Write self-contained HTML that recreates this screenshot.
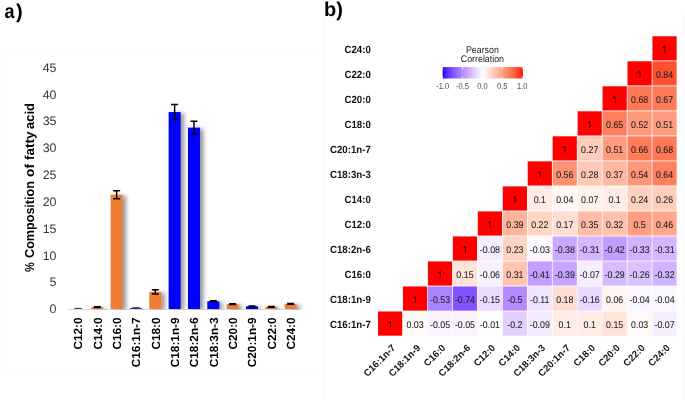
<!DOCTYPE html>
<html><head><meta charset="utf-8"><title>Fatty acid composition and correlation</title>
<style>html,body{margin:0;padding:0;background:#fff;}body{width:685px;height:400px;overflow:hidden;font-family:"Liberation Sans", sans-serif;}svg{display:block;filter:blur(0.3px);}</style>
</head><body><svg width="685" height="400" viewBox="0 0 685 400" text-rendering="geometricPrecision" font-family='"Liberation Sans", sans-serif'><defs><linearGradient id="cb" x1="0" x2="1" y1="0" y2="0"><stop offset="0.0000" stop-color="rgb(0, 0, 255)"/><stop offset="0.0250" stop-color="rgb(56, 27, 255)"/><stop offset="0.0500" stop-color="rgb(80, 43, 255)"/><stop offset="0.0750" stop-color="rgb(98, 57, 255)"/><stop offset="0.1000" stop-color="rgb(113, 69, 255)"/><stop offset="0.1250" stop-color="rgb(126, 82, 255)"/><stop offset="0.1500" stop-color="rgb(138, 93, 255)"/><stop offset="0.1750" stop-color="rgb(149, 105, 255)"/><stop offset="0.2000" stop-color="rgb(160, 116, 255)"/><stop offset="0.2250" stop-color="rgb(170, 128, 255)"/><stop offset="0.2500" stop-color="rgb(179, 139, 255)"/><stop offset="0.2750" stop-color="rgb(188, 151, 255)"/><stop offset="0.3000" stop-color="rgb(196, 162, 255)"/><stop offset="0.3250" stop-color="rgb(204, 173, 255)"/><stop offset="0.3500" stop-color="rgb(212, 185, 255)"/><stop offset="0.3750" stop-color="rgb(220, 196, 255)"/><stop offset="0.4000" stop-color="rgb(227, 208, 255)"/><stop offset="0.4250" stop-color="rgb(235, 220, 255)"/><stop offset="0.4500" stop-color="rgb(242, 231, 255)"/><stop offset="0.4750" stop-color="rgb(248, 243, 255)"/><stop offset="0.5000" stop-color="rgb(255, 255, 255)"/><stop offset="0.5250" stop-color="rgb(255, 245, 242)"/><stop offset="0.5500" stop-color="rgb(255, 236, 229)"/><stop offset="0.5750" stop-color="rgb(255, 226, 216)"/><stop offset="0.6000" stop-color="rgb(255, 217, 203)"/><stop offset="0.6250" stop-color="rgb(255, 207, 191)"/><stop offset="0.6500" stop-color="rgb(255, 198, 178)"/><stop offset="0.6750" stop-color="rgb(255, 188, 166)"/><stop offset="0.7000" stop-color="rgb(255, 178, 153)"/><stop offset="0.7250" stop-color="rgb(255, 168, 141)"/><stop offset="0.7500" stop-color="rgb(255, 158, 129)"/><stop offset="0.7750" stop-color="rgb(255, 148, 117)"/><stop offset="0.8000" stop-color="rgb(255, 137, 105)"/><stop offset="0.8250" stop-color="rgb(255, 126, 94)"/><stop offset="0.8500" stop-color="rgb(255, 115, 82)"/><stop offset="0.8750" stop-color="rgb(255, 104, 70)"/><stop offset="0.9000" stop-color="rgb(255, 91, 58)"/><stop offset="0.9250" stop-color="rgb(255, 77, 46)"/><stop offset="0.9500" stop-color="rgb(255, 62, 34)"/><stop offset="0.9750" stop-color="rgb(255, 41, 19)"/><stop offset="1.0000" stop-color="rgb(255, 0, 0)"/></linearGradient><clipPath id="pc"><rect x="60" y="40" width="260" height="269.5"/></clipPath><filter id="sh" x="-50%" y="-10%" width="200%" height="130%"><feDropShadow dx="3.4" dy="1.2" stdDeviation="2.1" flood-color="#000" flood-opacity="0.42"/></filter></defs><path d="M317 50.8H1.8V375.6H317" fill="none" stroke="#fafafa" stroke-width="1.2"/><line x1="324.7" y1="17" x2="324.7" y2="400" stroke="#fafafa" stroke-width="1.2"/><line x1="683.6" y1="12" x2="683.6" y2="400" stroke="#f8f8f8" stroke-width="1.2"/><text transform="translate(4.4,18) scale(0.9,1)" font-size="20" font-weight="bold" fill="#000">a</text><text x="16.1" y="18" font-size="20" font-weight="bold" fill="#000">)</text><text x="324" y="16" font-size="20" font-weight="bold" fill="#000">b)</text><text x="56.5" y="313.30" font-size="12.4" text-anchor="end" fill="#363636">0</text><text x="56.5" y="286.47" font-size="12.4" text-anchor="end" fill="#363636">5</text><text x="56.5" y="259.63" font-size="12.4" text-anchor="end" fill="#363636">10</text><text x="56.5" y="232.80" font-size="12.4" text-anchor="end" fill="#363636">15</text><text x="56.5" y="205.96" font-size="12.4" text-anchor="end" fill="#363636">20</text><text x="56.5" y="179.12" font-size="12.4" text-anchor="end" fill="#363636">25</text><text x="56.5" y="152.29" font-size="12.4" text-anchor="end" fill="#363636">30</text><text x="56.5" y="125.45" font-size="12.4" text-anchor="end" fill="#363636">35</text><text x="56.5" y="98.62" font-size="12.4" text-anchor="end" fill="#363636">40</text><text x="56.5" y="71.79" font-size="12.4" text-anchor="end" fill="#363636">45</text><line x1="68" y1="309.5" x2="300" y2="309.5" stroke="#d9d9d9" stroke-width="1"/><g clip-path="url(#pc)"><g filter="url(#sh)"><rect x="71.97" y="309.00" width="12" height="0.00" fill="#ed7d31"/><rect x="91.30" y="307.12" width="12" height="1.88" fill="#ed7d31"/><rect x="110.63" y="194.68" width="12" height="114.32" fill="#ed7d31"/><rect x="129.97" y="308.19" width="12" height="0.81" fill="#0000ff"/><rect x="149.30" y="291.83" width="12" height="17.17" fill="#ed7d31"/><rect x="168.63" y="112.03" width="12" height="196.97" fill="#0000ff"/><rect x="187.97" y="127.60" width="12" height="181.40" fill="#0000ff"/><rect x="207.30" y="301.22" width="12" height="7.78" fill="#0000ff"/><rect x="226.63" y="304.17" width="12" height="4.83" fill="#ed7d31"/><rect x="245.97" y="306.32" width="12" height="2.68" fill="#0000ff"/><rect x="265.30" y="306.85" width="12" height="2.15" fill="#ed7d31"/><rect x="284.63" y="303.90" width="12" height="5.10" fill="#ed7d31"/></g></g><path d="M74.37 308.4H81.57" stroke="#3a3a3a" stroke-width="1.1" fill="none"/><path d="M93.80 306.69H100.80M97.30 306.69V307.55M93.80 307.55H100.80" stroke="#000" stroke-width="1.45" fill="none"/><path d="M113.13 190.71H120.13M116.63 190.71V198.65M113.13 198.65H120.13" stroke="#000" stroke-width="1.45" fill="none"/><path d="M132.37 307.9H139.57" stroke="#3a3a3a" stroke-width="1.5" fill="none"/><path d="M151.80 289.68H158.80M155.30 289.68V293.97M151.80 293.97H158.80" stroke="#000" stroke-width="1.45" fill="none"/><path d="M171.13 104.52H178.13M174.63 104.52V119.54M171.13 119.54H178.13" stroke="#000" stroke-width="1.45" fill="none"/><path d="M190.47 121.16H197.47M193.97 121.16V134.04M190.47 134.04H197.47" stroke="#000" stroke-width="1.45" fill="none"/><path d="M209.80 300.79H216.80M213.30 300.79V301.65M209.80 301.65H216.80" stroke="#000" stroke-width="1.45" fill="none"/><path d="M229.13 303.74H236.13M232.63 303.74V304.60M229.13 304.60H236.13" stroke="#000" stroke-width="1.45" fill="none"/><path d="M248.47 305.89H255.47M251.97 305.89V306.75M248.47 306.75H255.47" stroke="#000" stroke-width="1.45" fill="none"/><path d="M267.80 306.42H274.80M271.30 306.42V307.28M267.80 307.28H274.80" stroke="#000" stroke-width="1.45" fill="none"/><path d="M287.13 303.47H294.13M290.63 303.47V304.33M287.13 304.33H294.13" stroke="#000" stroke-width="1.45" fill="none"/><text transform="translate(82.17,317.4) rotate(-90)" font-size="11.8" font-weight="bold" text-anchor="end" fill="#000">C12:0</text><text transform="translate(101.50,317.4) rotate(-90)" font-size="11.8" font-weight="bold" text-anchor="end" fill="#000">C14:0</text><text transform="translate(120.83,317.4) rotate(-90)" font-size="11.8" font-weight="bold" text-anchor="end" fill="#000">C16:0</text><text transform="translate(140.17,317.4) rotate(-90)" font-size="11.8" font-weight="bold" text-anchor="end" fill="#000">C16:1n-7</text><text transform="translate(159.50,317.4) rotate(-90)" font-size="11.8" font-weight="bold" text-anchor="end" fill="#000">C18:0</text><text transform="translate(178.83,317.4) rotate(-90)" font-size="11.8" font-weight="bold" text-anchor="end" fill="#000">C18:1n-9</text><text transform="translate(198.17,317.4) rotate(-90)" font-size="11.8" font-weight="bold" text-anchor="end" fill="#000">C18:2n-6</text><text transform="translate(217.50,317.4) rotate(-90)" font-size="11.8" font-weight="bold" text-anchor="end" fill="#000">C18:3n-3</text><text transform="translate(236.83,317.4) rotate(-90)" font-size="11.8" font-weight="bold" text-anchor="end" fill="#000">C20:0</text><text transform="translate(256.17,317.4) rotate(-90)" font-size="11.8" font-weight="bold" text-anchor="end" fill="#000">C20:1n-9</text><text transform="translate(275.50,317.4) rotate(-90)" font-size="11.8" font-weight="bold" text-anchor="end" fill="#000">C22:0</text><text transform="translate(294.83,317.4) rotate(-90)" font-size="11.8" font-weight="bold" text-anchor="end" fill="#000">C24:0</text><text transform="translate(34.4,272.10) rotate(-90)" font-size="13" font-weight="bold" textLength="9.80" lengthAdjust="spacingAndGlyphs" fill="#000">%</text><text transform="translate(34.4,257.90) rotate(-90)" font-size="13" font-weight="bold" textLength="76.80" lengthAdjust="spacingAndGlyphs" fill="#000">Composition</text><text transform="translate(34.4,176.90) rotate(-90)" font-size="13" font-weight="bold" textLength="12.80" lengthAdjust="spacingAndGlyphs" fill="#000">of</text><text transform="translate(34.4,159.90) rotate(-90)" font-size="13" font-weight="bold" textLength="28.30" lengthAdjust="spacingAndGlyphs" fill="#000">fatty</text><text transform="translate(34.4,128.90) rotate(-90)" font-size="13" font-weight="bold" textLength="25.80" lengthAdjust="spacingAndGlyphs" fill="#000">acid</text><text transform="translate(370.8,52.85) scale(0.93,1)" font-size="10.4" font-weight="bold" text-anchor="end" fill="#111">C24:0</text><text transform="translate(370.8,77.87) scale(0.93,1)" font-size="10.4" font-weight="bold" text-anchor="end" fill="#111">C22:0</text><text transform="translate(370.8,102.89) scale(0.93,1)" font-size="10.4" font-weight="bold" text-anchor="end" fill="#111">C20:0</text><text transform="translate(370.8,127.91) scale(0.93,1)" font-size="10.4" font-weight="bold" text-anchor="end" fill="#111">C18:0</text><text transform="translate(370.8,152.93) scale(0.93,1)" font-size="10.4" font-weight="bold" text-anchor="end" fill="#111">C20:1n-7</text><text transform="translate(370.8,177.95) scale(0.93,1)" font-size="10.4" font-weight="bold" text-anchor="end" fill="#111">C18:3n-3</text><text transform="translate(370.8,202.97) scale(0.93,1)" font-size="10.4" font-weight="bold" text-anchor="end" fill="#111">C14:0</text><text transform="translate(370.8,227.99) scale(0.93,1)" font-size="10.4" font-weight="bold" text-anchor="end" fill="#111">C12:0</text><text transform="translate(370.8,253.01) scale(0.93,1)" font-size="10.4" font-weight="bold" text-anchor="end" fill="#111">C18:2n-6</text><text transform="translate(370.8,278.03) scale(0.93,1)" font-size="10.4" font-weight="bold" text-anchor="end" fill="#111">C16:0</text><text transform="translate(370.8,303.05) scale(0.93,1)" font-size="10.4" font-weight="bold" text-anchor="end" fill="#111">C18:1n-9</text><text transform="translate(370.8,328.07) scale(0.93,1)" font-size="10.4" font-weight="bold" text-anchor="end" fill="#111">C16:1n-7</text><rect x="652.45" y="36.25" width="24.2" height="24.2" fill="rgb(255, 0, 0)"/><rect x="627.50" y="61.27" width="24.2" height="24.2" fill="rgb(255, 0, 0)"/><rect x="652.45" y="61.27" width="24.2" height="24.2" fill="rgb(255, 80, 49)"/><rect x="602.55" y="86.29" width="24.2" height="24.2" fill="rgb(255, 0, 0)"/><rect x="627.50" y="86.29" width="24.2" height="24.2" fill="rgb(255, 120, 87)"/><rect x="652.45" y="86.29" width="24.2" height="24.2" fill="rgb(255, 122, 89)"/><rect x="577.60" y="111.31" width="24.2" height="24.2" fill="rgb(255, 0, 0)"/><rect x="602.55" y="111.31" width="24.2" height="24.2" fill="rgb(255, 126, 94)"/><rect x="627.50" y="111.31" width="24.2" height="24.2" fill="rgb(255, 154, 124)"/><rect x="652.45" y="111.31" width="24.2" height="24.2" fill="rgb(255, 156, 127)"/><rect x="552.65" y="136.33" width="24.2" height="24.2" fill="rgb(255, 0, 0)"/><rect x="577.60" y="136.33" width="24.2" height="24.2" fill="rgb(255, 203, 186)"/><rect x="602.55" y="136.33" width="24.2" height="24.2" fill="rgb(255, 156, 127)"/><rect x="627.50" y="136.33" width="24.2" height="24.2" fill="rgb(255, 124, 91)"/><rect x="652.45" y="136.33" width="24.2" height="24.2" fill="rgb(255, 120, 87)"/><rect x="527.70" y="161.35" width="24.2" height="24.2" fill="rgb(255, 0, 0)"/><rect x="552.65" y="161.35" width="24.2" height="24.2" fill="rgb(255, 146, 115)"/><rect x="577.60" y="161.35" width="24.2" height="24.2" fill="rgb(255, 201, 183)"/><rect x="602.55" y="161.35" width="24.2" height="24.2" fill="rgb(255, 184, 161)"/><rect x="627.50" y="161.35" width="24.2" height="24.2" fill="rgb(255, 150, 120)"/><rect x="652.45" y="161.35" width="24.2" height="24.2" fill="rgb(255, 129, 96)"/><rect x="502.75" y="186.37" width="24.2" height="24.2" fill="rgb(255, 0, 0)"/><rect x="527.70" y="186.37" width="24.2" height="24.2" fill="rgb(255, 236, 229)"/><rect x="552.65" y="186.37" width="24.2" height="24.2" fill="rgb(255, 247, 245)"/><rect x="577.60" y="186.37" width="24.2" height="24.2" fill="rgb(255, 242, 237)"/><rect x="602.55" y="186.37" width="24.2" height="24.2" fill="rgb(255, 236, 229)"/><rect x="627.50" y="186.37" width="24.2" height="24.2" fill="rgb(255, 209, 193)"/><rect x="652.45" y="186.37" width="24.2" height="24.2" fill="rgb(255, 205, 188)"/><rect x="477.80" y="211.39" width="24.2" height="24.2" fill="rgb(255, 0, 0)"/><rect x="502.75" y="211.39" width="24.2" height="24.2" fill="rgb(255, 180, 156)"/><rect x="527.70" y="211.39" width="24.2" height="24.2" fill="rgb(255, 213, 198)"/><rect x="552.65" y="211.39" width="24.2" height="24.2" fill="rgb(255, 223, 211)"/><rect x="577.60" y="211.39" width="24.2" height="24.2" fill="rgb(255, 188, 166)"/><rect x="602.55" y="211.39" width="24.2" height="24.2" fill="rgb(255, 194, 173)"/><rect x="627.50" y="211.39" width="24.2" height="24.2" fill="rgb(255, 158, 129)"/><rect x="652.45" y="211.39" width="24.2" height="24.2" fill="rgb(255, 166, 139)"/><rect x="452.85" y="236.41" width="24.2" height="24.2" fill="rgb(255, 0, 0)"/><rect x="477.80" y="236.41" width="24.2" height="24.2" fill="rgb(244, 236, 255)"/><rect x="502.75" y="236.41" width="24.2" height="24.2" fill="rgb(255, 211, 196)"/><rect x="527.70" y="236.41" width="24.2" height="24.2" fill="rgb(251, 248, 255)"/><rect x="552.65" y="236.41" width="24.2" height="24.2" fill="rgb(200, 167, 255)"/><rect x="577.60" y="236.41" width="24.2" height="24.2" fill="rgb(211, 183, 255)"/><rect x="602.55" y="236.41" width="24.2" height="24.2" fill="rgb(193, 157, 255)"/><rect x="627.50" y="236.41" width="24.2" height="24.2" fill="rgb(208, 178, 255)"/><rect x="652.45" y="236.41" width="24.2" height="24.2" fill="rgb(211, 183, 255)"/><rect x="427.90" y="261.43" width="24.2" height="24.2" fill="rgb(255, 0, 0)"/><rect x="452.85" y="261.43" width="24.2" height="24.2" fill="rgb(255, 226, 216)"/><rect x="477.80" y="261.43" width="24.2" height="24.2" fill="rgb(247, 241, 255)"/><rect x="502.75" y="261.43" width="24.2" height="24.2" fill="rgb(255, 196, 176)"/><rect x="527.70" y="261.43" width="24.2" height="24.2" fill="rgb(195, 160, 255)"/><rect x="552.65" y="261.43" width="24.2" height="24.2" fill="rgb(198, 164, 255)"/><rect x="577.60" y="261.43" width="24.2" height="24.2" fill="rgb(246, 238, 255)"/><rect x="602.55" y="261.43" width="24.2" height="24.2" fill="rgb(214, 187, 255)"/><rect x="627.50" y="261.43" width="24.2" height="24.2" fill="rgb(218, 194, 255)"/><rect x="652.45" y="261.43" width="24.2" height="24.2" fill="rgb(209, 180, 255)"/><rect x="402.95" y="286.45" width="24.2" height="24.2" fill="rgb(255, 0, 0)"/><rect x="427.90" y="286.45" width="24.2" height="24.2" fill="rgb(173, 132, 255)"/><rect x="452.85" y="286.45" width="24.2" height="24.2" fill="rgb(129, 84, 255)"/><rect x="477.80" y="286.45" width="24.2" height="24.2" fill="rgb(235, 220, 255)"/><rect x="502.75" y="286.45" width="24.2" height="24.2" fill="rgb(179, 139, 255)"/><rect x="527.70" y="286.45" width="24.2" height="24.2" fill="rgb(240, 229, 255)"/><rect x="552.65" y="286.45" width="24.2" height="24.2" fill="rgb(255, 221, 208)"/><rect x="577.60" y="286.45" width="24.2" height="24.2" fill="rgb(233, 217, 255)"/><rect x="602.55" y="286.45" width="24.2" height="24.2" fill="rgb(255, 244, 239)"/><rect x="627.50" y="286.45" width="24.2" height="24.2" fill="rgb(250, 246, 255)"/><rect x="652.45" y="286.45" width="24.2" height="24.2" fill="rgb(250, 246, 255)"/><rect x="378.00" y="311.47" width="24.2" height="24.2" fill="rgb(255, 0, 0)"/><rect x="402.95" y="311.47" width="24.2" height="24.2" fill="rgb(255, 249, 247)"/><rect x="427.90" y="311.47" width="24.2" height="24.2" fill="rgb(248, 243, 255)"/><rect x="452.85" y="311.47" width="24.2" height="24.2" fill="rgb(248, 243, 255)"/><rect x="477.80" y="311.47" width="24.2" height="24.2" fill="rgb(254, 253, 255)"/><rect x="502.75" y="311.47" width="24.2" height="24.2" fill="rgb(227, 208, 255)"/><rect x="527.70" y="311.47" width="24.2" height="24.2" fill="rgb(243, 234, 255)"/><rect x="552.65" y="311.47" width="24.2" height="24.2" fill="rgb(255, 236, 229)"/><rect x="577.60" y="311.47" width="24.2" height="24.2" fill="rgb(255, 236, 229)"/><rect x="602.55" y="311.47" width="24.2" height="24.2" fill="rgb(255, 226, 216)"/><rect x="627.50" y="311.47" width="24.2" height="24.2" fill="rgb(255, 249, 247)"/><rect x="652.45" y="311.47" width="24.2" height="24.2" fill="rgb(246, 238, 255)"/><g font-size="9.8" fill="#1a1a1a" stroke="#1a1a1a" stroke-width="0.06"><text transform="translate(664.55,78.07) scale(0.9,1)" text-anchor="middle">0.84</text><text transform="translate(639.60,103.09) scale(0.9,1)" text-anchor="middle">0.68</text><text transform="translate(664.55,103.09) scale(0.9,1)" text-anchor="middle">0.67</text><text transform="translate(614.65,128.11) scale(0.9,1)" text-anchor="middle">0.65</text><text transform="translate(639.60,128.11) scale(0.9,1)" text-anchor="middle">0.52</text><text transform="translate(664.55,128.11) scale(0.9,1)" text-anchor="middle">0.51</text><text transform="translate(589.70,153.13) scale(0.9,1)" text-anchor="middle">0.27</text><text transform="translate(614.65,153.13) scale(0.9,1)" text-anchor="middle">0.51</text><text transform="translate(639.60,153.13) scale(0.9,1)" text-anchor="middle">0.66</text><text transform="translate(664.55,153.13) scale(0.9,1)" text-anchor="middle">0.68</text><text transform="translate(564.75,178.15) scale(0.9,1)" text-anchor="middle">0.56</text><text transform="translate(589.70,178.15) scale(0.9,1)" text-anchor="middle">0.28</text><text transform="translate(614.65,178.15) scale(0.9,1)" text-anchor="middle">0.37</text><text transform="translate(639.60,178.15) scale(0.9,1)" text-anchor="middle">0.54</text><text transform="translate(664.55,178.15) scale(0.9,1)" text-anchor="middle">0.64</text><text transform="translate(539.80,203.17) scale(0.9,1)" text-anchor="middle">0.1</text><text transform="translate(564.75,203.17) scale(0.9,1)" text-anchor="middle">0.04</text><text transform="translate(589.70,203.17) scale(0.9,1)" text-anchor="middle">0.07</text><text transform="translate(614.65,203.17) scale(0.9,1)" text-anchor="middle">0.1</text><text transform="translate(639.60,203.17) scale(0.9,1)" text-anchor="middle">0.24</text><text transform="translate(664.55,203.17) scale(0.9,1)" text-anchor="middle">0.26</text><text transform="translate(514.85,228.19) scale(0.9,1)" text-anchor="middle">0.39</text><text transform="translate(539.80,228.19) scale(0.9,1)" text-anchor="middle">0.22</text><text transform="translate(564.75,228.19) scale(0.9,1)" text-anchor="middle">0.17</text><text transform="translate(589.70,228.19) scale(0.9,1)" text-anchor="middle">0.35</text><text transform="translate(614.65,228.19) scale(0.9,1)" text-anchor="middle">0.32</text><text transform="translate(639.60,228.19) scale(0.9,1)" text-anchor="middle">0.5</text><text transform="translate(664.55,228.19) scale(0.9,1)" text-anchor="middle">0.46</text><text transform="translate(489.90,253.21) scale(0.9,1)" text-anchor="middle">-0.08</text><text transform="translate(514.85,253.21) scale(0.9,1)" text-anchor="middle">0.23</text><text transform="translate(539.80,253.21) scale(0.9,1)" text-anchor="middle">-0.03</text><text transform="translate(564.75,253.21) scale(0.9,1)" text-anchor="middle">-0.38</text><text transform="translate(589.70,253.21) scale(0.9,1)" text-anchor="middle">-0.31</text><text transform="translate(614.65,253.21) scale(0.9,1)" text-anchor="middle">-0.42</text><text transform="translate(639.60,253.21) scale(0.9,1)" text-anchor="middle">-0.33</text><text transform="translate(664.55,253.21) scale(0.9,1)" text-anchor="middle">-0.31</text><text transform="translate(464.95,278.23) scale(0.9,1)" text-anchor="middle">0.15</text><text transform="translate(489.90,278.23) scale(0.9,1)" text-anchor="middle">-0.06</text><text transform="translate(514.85,278.23) scale(0.9,1)" text-anchor="middle">0.31</text><text transform="translate(539.80,278.23) scale(0.9,1)" text-anchor="middle">-0.41</text><text transform="translate(564.75,278.23) scale(0.9,1)" text-anchor="middle">-0.39</text><text transform="translate(589.70,278.23) scale(0.9,1)" text-anchor="middle">-0.07</text><text transform="translate(614.65,278.23) scale(0.9,1)" text-anchor="middle">-0.29</text><text transform="translate(639.60,278.23) scale(0.9,1)" text-anchor="middle">-0.26</text><text transform="translate(664.55,278.23) scale(0.9,1)" text-anchor="middle">-0.32</text><text transform="translate(440.00,303.25) scale(0.9,1)" text-anchor="middle">-0.53</text><text transform="translate(464.95,303.25) scale(0.9,1)" text-anchor="middle">-0.74</text><text transform="translate(489.90,303.25) scale(0.9,1)" text-anchor="middle">-0.15</text><text transform="translate(514.85,303.25) scale(0.9,1)" text-anchor="middle">-0.5</text><text transform="translate(539.80,303.25) scale(0.9,1)" text-anchor="middle">-0.11</text><text transform="translate(564.75,303.25) scale(0.9,1)" text-anchor="middle">0.18</text><text transform="translate(589.70,303.25) scale(0.9,1)" text-anchor="middle">-0.16</text><text transform="translate(614.65,303.25) scale(0.9,1)" text-anchor="middle">0.06</text><text transform="translate(639.60,303.25) scale(0.9,1)" text-anchor="middle">-0.04</text><text transform="translate(664.55,303.25) scale(0.9,1)" text-anchor="middle">-0.04</text><text transform="translate(415.05,328.27) scale(0.9,1)" text-anchor="middle">0.03</text><text transform="translate(440.00,328.27) scale(0.9,1)" text-anchor="middle">-0.05</text><text transform="translate(464.95,328.27) scale(0.9,1)" text-anchor="middle">-0.05</text><text transform="translate(489.90,328.27) scale(0.9,1)" text-anchor="middle">-0.01</text><text transform="translate(514.85,328.27) scale(0.9,1)" text-anchor="middle">-0.2</text><text transform="translate(539.80,328.27) scale(0.9,1)" text-anchor="middle">-0.09</text><text transform="translate(564.75,328.27) scale(0.9,1)" text-anchor="middle">0.1</text><text transform="translate(589.70,328.27) scale(0.9,1)" text-anchor="middle">0.1</text><text transform="translate(614.65,328.27) scale(0.9,1)" text-anchor="middle">0.15</text><text transform="translate(639.60,328.27) scale(0.9,1)" text-anchor="middle">0.03</text><text transform="translate(664.55,328.27) scale(0.9,1)" text-anchor="middle">-0.07</text></g><path d="M664.95 46.15V52.75M664.95 46.25L662.95 47.95M640.00 71.17V77.77M640.00 71.27L638.00 72.97M615.05 96.19V102.79M615.05 96.29L613.05 97.99M590.10 121.21V127.81M590.10 121.31L588.10 123.01M565.15 146.23V152.83M565.15 146.33L563.15 148.03M540.20 171.25V177.85M540.20 171.35L538.20 173.05M515.25 196.27V202.87M515.25 196.37L513.25 198.07M490.30 221.29V227.89M490.30 221.39L488.30 223.09M465.35 246.31V252.91M465.35 246.41L463.35 248.11M440.40 271.33V277.93M440.40 271.43L438.40 273.13M415.45 296.35V302.95M415.45 296.45L413.45 298.15M390.50 321.37V327.97M390.50 321.47L388.50 323.17" stroke="#4a0000" stroke-width="1.1" fill="none"/><text transform="translate(396.10,348.50) rotate(-45)" font-size="9.6" font-weight="bold" text-anchor="end" fill="#111">C16:1n-7</text><text transform="translate(421.05,348.50) rotate(-45)" font-size="9.6" font-weight="bold" text-anchor="end" fill="#111">C18:1n-9</text><text transform="translate(446.00,348.50) rotate(-45)" font-size="9.6" font-weight="bold" text-anchor="end" fill="#111">C16:0</text><text transform="translate(470.95,348.50) rotate(-45)" font-size="9.6" font-weight="bold" text-anchor="end" fill="#111">C18:2n-6</text><text transform="translate(495.90,348.50) rotate(-45)" font-size="9.6" font-weight="bold" text-anchor="end" fill="#111">C12:0</text><text transform="translate(520.85,348.50) rotate(-45)" font-size="9.6" font-weight="bold" text-anchor="end" fill="#111">C14:0</text><text transform="translate(545.80,348.50) rotate(-45)" font-size="9.6" font-weight="bold" text-anchor="end" fill="#111">C18:3n-3</text><text transform="translate(570.75,348.50) rotate(-45)" font-size="9.6" font-weight="bold" text-anchor="end" fill="#111">C20:1n-7</text><text transform="translate(595.70,348.50) rotate(-45)" font-size="9.6" font-weight="bold" text-anchor="end" fill="#111">C18:0</text><text transform="translate(620.65,348.50) rotate(-45)" font-size="9.6" font-weight="bold" text-anchor="end" fill="#111">C20:0</text><text transform="translate(645.60,348.50) rotate(-45)" font-size="9.6" font-weight="bold" text-anchor="end" fill="#111">C22:0</text><text transform="translate(670.55,348.50) rotate(-45)" font-size="9.6" font-weight="bold" text-anchor="end" fill="#111">C24:0</text><text transform="translate(482.4,52.8) scale(0.91,1)" font-size="9.7" text-anchor="middle" fill="#222">Pearson</text><text transform="translate(482.4,62.3) scale(0.91,1)" font-size="9.7" text-anchor="middle" fill="#222">Correlation</text><rect x="442.6" y="67.1" width="80.3" height="11.4" fill="url(#cb)"/><path d="M442.60 67.1v2.2M442.60 78.5v-2.2" stroke="#fff" stroke-width="0.8"/><text transform="translate(442.60,89.4) scale(0.87,1)" font-size="8.6" text-anchor="middle" fill="#4d4d4d">-1.0</text><path d="M462.50 67.1v2.2M462.50 78.5v-2.2" stroke="#fff" stroke-width="0.8"/><text transform="translate(462.50,89.4) scale(0.87,1)" font-size="8.6" text-anchor="middle" fill="#4d4d4d">-0.5</text><path d="M482.40 67.1v2.2M482.40 78.5v-2.2" stroke="#fff" stroke-width="0.8"/><text transform="translate(482.40,89.4) scale(0.87,1)" font-size="8.6" text-anchor="middle" fill="#4d4d4d">0.0</text><path d="M502.30 67.1v2.2M502.30 78.5v-2.2" stroke="#fff" stroke-width="0.8"/><text transform="translate(502.30,89.4) scale(0.87,1)" font-size="8.6" text-anchor="middle" fill="#4d4d4d">0.5</text><path d="M522.20 67.1v2.2M522.20 78.5v-2.2" stroke="#fff" stroke-width="0.8"/><text transform="translate(522.20,89.4) scale(0.87,1)" font-size="8.6" text-anchor="middle" fill="#4d4d4d">1.0</text></svg></body></html>
